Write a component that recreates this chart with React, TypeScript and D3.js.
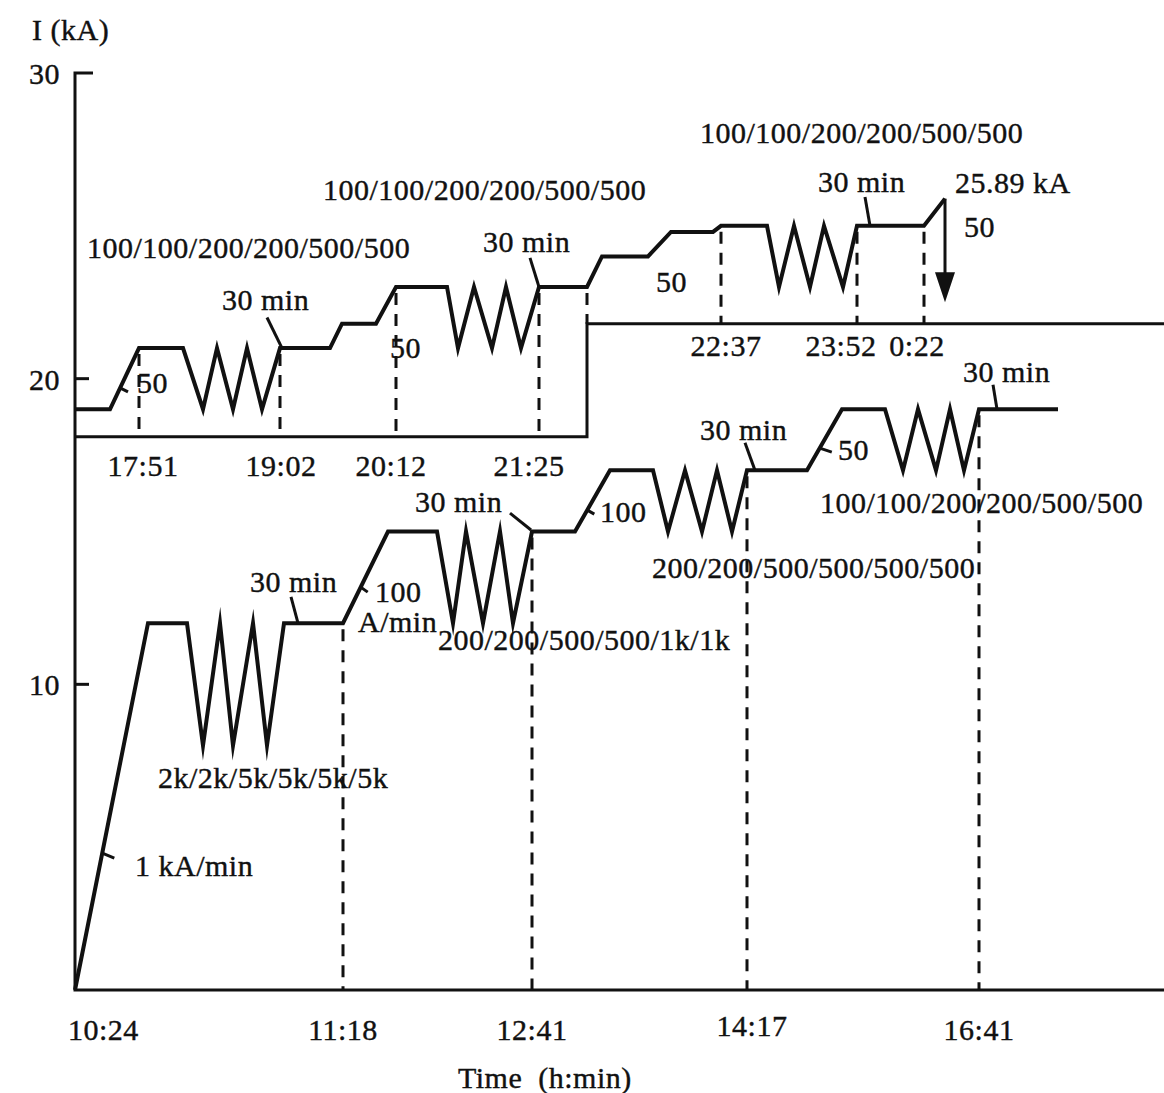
import React from "react";
import * as d3 from "d3";

// Schematic excitation sequence: current I (kA) against a schematic time axis (u).
// Main sequence (lower trace), read against the outer axes.
const lowerProfile: [number, number][] = [
  [0, 0], [73, 12], [112, 12], [128, 8], [145, 12], [158, 8], [178, 12], [192, 8], [209, 12],
  [268, 12], [313, 15], [362, 15], [378, 12], [391, 15], [408, 12], [425, 15], [438, 12], [457, 15],
  [500, 15], [535, 17], [578, 17], [593, 15], [610, 17], [627, 15], [642, 17], [657, 15], [672, 17],
  [732, 17], [767, 19], [810, 19], [828, 17], [843, 19], [861, 17], [875, 19], [889, 17], [904, 19],
  [983, 19],
];

// Continuation (upper trace), drawn above the stepped inset baseline.
const upperProfile: [number, number][] = [
  [0, 19], [35, 19], [64, 21], [108, 21], [128, 19], [142, 21], [158, 19], [172, 21], [187, 19], [205, 21],
  [255, 21], [267, 21.8], [301, 21.8], [321, 23], [372, 23], [383, 21], [399, 23], [417, 21], [431, 23],
  [446, 21], [464, 23], [512, 23], [527, 24], [573, 24], [596, 24.8], [638, 24.8], [646, 25], [692, 25],
  [704, 23], [719, 25], [735, 23], [749, 25], [768, 23], [782, 25], [849, 25], [870, 25.89],
];

// Stepped baseline of the upper trace
const insetAxis: [number, number][] = [[0, 18.1], [512, 18.1], [512, 21.8], [1089, 21.8]];

// Final discharge arrow: position, start level, arrow tip level
const dischargeArrow = { u: 870, from: 25.89, to: 22.5 };

// Vertical guides [u, top kA, bottom kA]
const lowerGuides: [number, number, number][] = [[268, 12, 0], [457, 15, 0], [672, 17, 0], [904, 19, 0]];
const upperGuides: [number, number, number][] = [
  [64, 21, 18.1], [205, 21, 18.1], [321, 23, 18.1], [464, 23, 18.1], [512, 23, 21.8],
  [646, 25, 21.8], [782, 25, 21.8], [849, 25, 21.8],
];

// Time labels
const mainTimes = [
  { t: "10:24", u: 0, dx: -7, dy: 0, anchor: "start" },
  { t: "11:18", u: 268, dx: 0, dy: 0, anchor: "middle" },
  { t: "12:41", u: 457, dx: 0, dy: 0, anchor: "middle" },
  { t: "14:17", u: 672, dx: 5, dy: -4, anchor: "middle" },
  { t: "16:41", u: 904, dx: 0, dy: 0, anchor: "middle" },
];
const insetLowTimes = [
  { t: "17:51", u: 64, dx: 4 },
  { t: "19:02", u: 205, dx: 1 },
  { t: "20:12", u: 321, dx: -5 },
  { t: "21:25", u: 464, dx: -10 },
];
const insetHighTimes = [
  { t: "22:37", u: 646, dx: 5 },
  { t: "23:52", u: 782, dx: -16 },
  { t: "0:22", u: 849, dx: -7 },
];

const yTicks = [10, 20, 30];

// Text notes: [text, u, kA of baseline]
const notes: [string, number, number][] = [
  ["100/100/200/200/500/500", 12, 23.95],
  ["30 min", 147, 22.25],
  ["50", 62, 19.53],
  ["50", 315, 20.68],
  ["100/100/200/200/500/500", 248, 25.84],
  ["30 min", 408, 24.14],
  ["50", 581, 22.84],
  ["100/100/200/200/500/500", 625, 27.71],
  ["30 min", 743, 26.11],
  ["25.89 kA", 880, 26.07],
  ["50", 889, 24.63],
  ["2k/2k/5k/5k/5k/5k", 83, 6.61],
  ["1 kA/min", 60, 3.73],
  ["30 min", 175, 13.02],
  ["100", 300, 12.69],
  ["A/min", 283, 11.71],
  ["30 min", 340, 15.64],
  ["100", 525, 15.31],
  ["200/200/500/500/1k/1k", 363, 11.12],
  ["30 min", 625, 17.99],
  ["50", 763, 17.34],
  ["200/200/500/500/500/500", 577, 13.48],
  ["100/100/200/200/500/500", 745, 15.61],
  ["30 min", 888, 19.89],
];

// Leaders for the hold-time notes: [u1, kA1, u2, kA2]
const leaders: [number, number, number, number][] = [
  [192, 22.0, 207, 21.0],
  [455, 23.95, 464, 23.0],
  [790, 25.94, 795, 25.0],
  [216, 12.86, 223, 12.0],
  [435, 15.6, 456, 15.05],
  [670, 17.9, 680, 17.0],
  [918, 19.8, 922, 19.0],
];

// Ramp-rate ticks: point on ramp [u, kA] and tick offset in px
const rampTicks: [number, number, number, number][] = [
  [27.3, 4.48, 12, 5],
  [45, 19.7, 8, 4],
  [285.7, 13.18, 7, 5],
  [512.3, 15.7, 7, 4],
  [744.8, 17.73, 12, 4],
];

const W = 1164;
const H = 1093;
const FONT = "'Liberation Serif', 'Times New Roman', serif";

export default function App() {
  const x = d3.scaleLinear().domain([0, 1089]).range([75, 1164]);
  const y = d3.scaleLinear().domain([0, 30]).range([990, 73]);
  const line = d3.line<[number, number]>().x((d) => x(d[0])).y((d) => y(d[1]));

  const ink = "#111";
  const textStyle = {
    fontFamily: FONT,
    fontSize: 30,
    letterSpacing: 0.5,
    fill: ink,
    stroke: ink,
    strokeWidth: 0.4,
  } as const;

  const arrowX = x(dischargeArrow.u);
  const tipY = y(dischargeArrow.to);
  const headBase = tipY - 30;

  return (
    <svg
      width={W}
      height={H}
      viewBox={`0 0 ${W} ${H}`}
      style={{ position: "absolute", left: 0, top: 0, background: "#fff" }}
    >
      <rect width={W} height={H} fill="#fff" />

      {/* axes */}
      <path d={`M${x(0) + 18},${y(30)}H${x(0)}V${y(0)}H${W}`} fill="none" stroke={ink} strokeWidth={3} />
      {yTicks.filter((v) => v < 30).map((v) => (
        <line key={v} x1={x(0)} x2={x(0) + 14} y1={y(v)} y2={y(v)} stroke={ink} strokeWidth={3} />
      ))}
      {yTicks.map((v) => (
        <text key={v} x={60} y={y(v) + 11} textAnchor="end" style={textStyle}>{v}</text>
      ))}
      <text x={32} y={40} style={textStyle}>I (kA)</text>
      <text x={458} y={1088} style={{ ...textStyle, wordSpacing: 8 }}>Time (h:min)</text>

      {/* inset baseline for the continuation */}
      <path d={line(insetAxis) || ""} fill="none" stroke={ink} strokeWidth={3} />

      {/* guides */}
      {[...lowerGuides, ...upperGuides].map(([u, top, bottom], i) => (
        <line
          key={i}
          x1={x(u)}
          x2={x(u)}
          y1={y(top) + 6}
          y2={y(bottom)}
          stroke={ink}
          strokeWidth={3}
          strokeDasharray="12,9"
        />
      ))}

      {/* current traces */}
      <path d={line(lowerProfile) || ""} fill="none" stroke={ink} strokeWidth={4} strokeLinejoin="miter" strokeMiterlimit={10} />
      <path d={line(upperProfile) || ""} fill="none" stroke={ink} strokeWidth={4} strokeLinejoin="miter" strokeMiterlimit={10} />

      {/* discharge arrow */}
      <line x1={arrowX} x2={arrowX} y1={y(dischargeArrow.from)} y2={headBase + 2} stroke={ink} strokeWidth={3} />
      <path d={`M${arrowX - 10},${headBase}L${arrowX + 10},${headBase}L${arrowX},${tipY}Z`} fill={ink} />

      {/* leaders and ramp ticks */}
      {leaders.map(([u1, k1, u2, k2], i) => (
        <line key={i} x1={x(u1)} y1={y(k1)} x2={x(u2)} y2={y(k2)} stroke={ink} strokeWidth={3} />
      ))}
      {rampTicks.map(([u, k, dx, dy], i) => (
        <line key={i} x1={x(u)} y1={y(k)} x2={x(u) + dx} y2={y(k) + dy} stroke={ink} strokeWidth={3} />
      ))}

      {/* time labels */}
      {mainTimes.map((d) => (
        <text key={d.t} x={x(d.u) + d.dx} y={1040 + d.dy} textAnchor={d.anchor as any} style={textStyle}>{d.t}</text>
      ))}
      {insetLowTimes.map((d) => (
        <text key={d.t} x={x(d.u) + d.dx} y={y(18.1) + 39} textAnchor="middle" style={textStyle}>{d.t}</text>
      ))}
      {insetHighTimes.map((d) => (
        <text key={d.t} x={x(d.u) + d.dx} y={y(21.8) + 32} textAnchor="middle" style={textStyle}>{d.t}</text>
      ))}

      {/* notes */}
      {notes.map(([t, u, k], i) => (
        <text key={i} x={x(u)} y={y(k)} style={textStyle}>{t}</text>
      ))}
    </svg>
  );
}
